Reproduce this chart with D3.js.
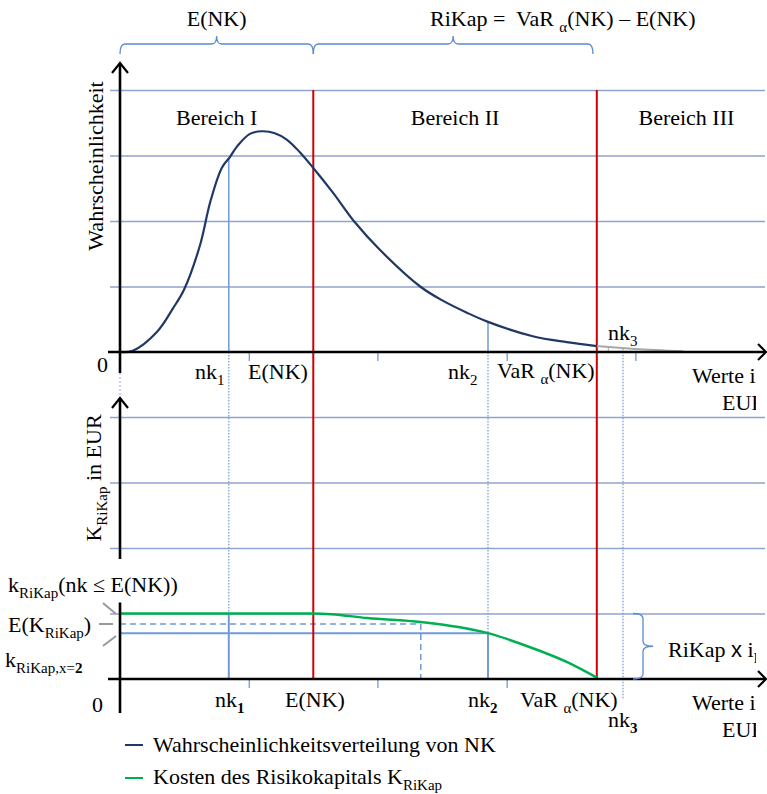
<!DOCTYPE html>
<html><head><meta charset="utf-8">
<script src="https://cdn.jsdelivr.net/npm/d3@7"></script>
<style>body{margin:0;background:#fff}</style>
</head><body>
<svg id="c" width="767" height="794" font-family="'Liberation Serif', serif"></svg>
<script>
// ---------- data (x in EUR units 0..100, y in arbitrary units) ----------
const densityX = [0, 2.0, 5.8, 8.3, 10, 12.5, 14.1, 15.9, 17.2, 18.3, 20.3, 22.2, 24.2, 26.1, 28.1, 30.2, 33.3, 36.7, 40.6, 46.9, 50.5, 54.2, 57.5, 64.5, 69.8, 74.5];
const densityY = [0, 0.02, 0.31, 0.67, 0.95, 1.63, 2.29, 2.81, 2.98, 3.14, 3.33, 3.37, 3.34, 3.24, 3.05, 2.81, 2.43, 1.98, 1.56, 1.00, 0.78, 0.60, 0.46, 0.24, 0.15, 0.09];
const tailX = [74.5, 80.6, 88];
const tailY = [0.09, 0.045, 0.01];
const costX = [0, 30.2, 33, 38.6, 47.0, 57.5, 64.5, 69.8, 74.5];
const costY = [1, 1, 0.99, 0.93, 0.87, 0.70, 0.47, 0.26, 0.02];
const nk1 = 17.0, eNK = 30.2, nk2 = 57.5, varNK = 74.5, nk3 = 78.6;
const gridTop = [1, 2, 3, 4];
const gridK = [1, 2, 3, 4];
const tickTopX = [20.2, 40.3, 60.5, 80.6];
const tickBottomX = [20.2, 40.3, 60.5];
const expectedCost = 0.84, expectedCostX = 47.0, costAtNk2 = 0.70, costMax = 1;
const braces = [[0, 30.2, "E(NK)"], [30.2, 73.9, ""]];
const regionLabels = ["Bereich I", "Bereich II", "Bereich III"];

// ---------- scales ----------
const svg = d3.select("#c");
const x = d3.scaleLinear().domain([0, 100]).range([120, 760]);
const yP = d3.scaleLinear().domain([0, 4]).range([352, 90]);
const yK = d3.scaleLinear().domain([0, 4]).range([679, 417]);

const GRID = "#8fa3cf", BLUE = "#6f9bd6", RED = "#d00000", NAVY = "#1f3864", GREEN = "#00b050";
const FS = 22, SFS = 15, FONT = "Liberation Serif";

function interp(xs, ys, v) {
  const i = d3.bisectRight(xs, v) - 1;
  const t = (v - xs[i]) / (xs[i + 1] - xs[i]);
  return ys[i] + t * (ys[i + 1] - ys[i]);
}
function line(x1, y1, x2, y2, col, w, dash) {
  const l = svg.append("line").attr("x1", x1).attr("y1", y1).attr("x2", x2).attr("y2", y2)
    .attr("stroke", col).attr("stroke-width", w);
  if (dash) l.attr("stroke-dasharray", dash);
  return l;
}
function rich(x0, y0, parts, opt = {}) {
  const t = svg.append("text").attr("x", x0).attr("y", y0).attr("font-size", FS)
    .attr("font-family", FONT).attr("fill", "#000").style("white-space", "pre");
  if (opt.anchor) t.attr("text-anchor", opt.anchor);
  if (opt.rotate) t.attr("transform", `rotate(-90,${x0},${y0})`);
  if (opt.clip) t.attr("clip-path", "url(#clipR)");
  let shift = 0;
  parts.forEach(p => {
    if (typeof p === "string") p = { t: p };
    const target = p.sub ? 6 : 0;
    const ts = t.append("tspan").text(p.t).attr("dy", target - shift);
    shift = target;
    if (p.sub) ts.attr("font-size", SFS);
    if (p.bold) ts.attr("font-weight", "bold");
    if (p.font) ts.attr("font-family", p.font);
  });
  return t;
}
svg.append("clipPath").attr("id", "clipR").append("rect").attr("x", 0).attr("y", 0).attr("width", 756).attr("height", 794);

// ---------- gridlines via axes ----------
const gTop = svg.append("g").attr("transform", "translate(110,0)")
  .call(d3.axisLeft(yP).tickValues(gridTop).tickSize(-655).tickFormat(""));
const gK = svg.append("g").attr("transform", "translate(110,0)")
  .call(d3.axisLeft(yK).tickValues(gridK).tickSize(-655).tickFormat(""));
[gTop, gK].forEach(g => { g.select(".domain").remove(); g.selectAll("line").attr("stroke", GRID).attr("stroke-width", 1.6); });

// ---------- tick marks ----------
tickTopX.forEach(v => line(x(v), yP(0), x(v), yP(0) + 9, BLUE, 1.3));
tickBottomX.forEach(v => line(x(v), yK(0), x(v), yK(0) + 9, BLUE, 1.3));
line(x(76.3), yP(0) - 4, x(76.3), yP(0), "#aaa", 1);

// ---------- marker lines ----------
const DOT = "1.5,1.5";
line(x(nk1), yP(interp(densityX, densityY, nk1)), x(nk1), yP(0), BLUE, 1.5);
line(x(nk1), yP(0), x(nk1), yK(costMax), BLUE, 1.2, DOT);
line(x(nk1), yK(costMax), x(nk1), yK(0), BLUE, 2);
line(x(nk2), yP(interp(densityX, densityY, nk2)), x(nk2), yP(0), BLUE, 1.5);
line(x(nk2), yP(0), x(nk2), yK(costAtNk2), BLUE, 1.2, DOT);
line(x(nk2), yK(costAtNk2), x(nk2), yK(0), BLUE, 2);
line(x(nk3), yP(0.05), x(nk3), yK(0) + 21, BLUE, 1.2, DOT);
line(x(0), yP(0) + 21, x(0), yK(4) - 19, "#b8c8e4", 1.5, "2,2");

// bottom level lines
line(x(0), yK(costAtNk2), x(nk2), yK(costAtNk2), BLUE, 2);
line(x(0), yK(expectedCost), x(expectedCostX), yK(expectedCost), BLUE, 1.5, "6,4");
line(x(expectedCostX), yK(expectedCost), x(expectedCostX), yK(0), BLUE, 1.5, "6,4");

// red region borders
[eNK, varNK].forEach(v => line(x(v), yP(4), x(v), yK(0), RED, 2));

// ---------- curves ----------
const lg = d3.line().x(d => x(d[0])).y(d => yP(d[1])).curve(d3.curveCatmullRom.alpha(0.5));
svg.append("path").attr("d", lg(d3.zip(tailX, tailY))).attr("fill", "none").attr("stroke", "#a8a8a8").attr("stroke-width", 2);
svg.append("path").attr("d", lg(d3.zip(densityX, densityY))).attr("fill", "none").attr("stroke", NAVY).attr("stroke-width", 2.2);
const lk = d3.line().x(d => x(d[0])).y(d => yK(d[1])).curve(d3.curveMonotoneX);
svg.append("path").attr("d", lk(d3.zip(costX, costY))).attr("fill", "none").attr("stroke", GREEN).attr("stroke-width", 2.5);

// ---------- axes (black) ----------
const AX = 2.6;
line(108, yP(0), 766, yP(0), "#000", AX);
line(120, yP(0) + 21, 120, 63, "#000", AX);
line(120, 559, 120, yK(4) - 19, "#000", AX);
line(120, yK(0) + 34, 120, yK(costMax) - 11, "#000", AX);
line(108, yK(0), 766, yK(0), "#000", AX);
function chevron(pts) {
  svg.append("path").attr("d", d3.line()(pts)).attr("fill", "none").attr("stroke", "#000").attr("stroke-width", 2.2);
}
chevron([[758, yP(0) - 8], [766, yP(0)], [758, yP(0) + 8]]);
chevron([[758, yK(0) - 8], [766, yK(0)], [758, yK(0) + 8]]);
chevron([[112, 73], [120, 63], [128, 73]]);
chevron([[112, yK(4) - 9], [120, yK(4) - 19], [128, yK(4) - 9]]);

// left connector strokes
line(103, 603, 116, 614, "#999", 2);
line(99, yK(expectedCost), 113, yK(expectedCost), "#999", 2);
line(103, 646, 116, 636, "#999", 2);

// ---------- braces ----------
function hBrace(xa, xb, y, h) {
  const m = (xa + xb) / 2, r = 5;
  const d = `M${xa},${y + h} Q${xa},${y} ${xa + r},${y} L${m - r},${y} Q${m},${y} ${m},${y - 8}` +
    ` Q${m},${y} ${m + r},${y} L${xb - r},${y} Q${xb},${y} ${xb},${y + h}`;
  svg.append("path").attr("d", d).attr("fill", "none").attr("stroke", "#5b8bd0").attr("stroke-width", 1.3);
}
braces.forEach(b => hBrace(x(b[0]), x(b[1]), 44, 10));
rich((x(braces[0][0]) + x(braces[0][1])) / 2, 26, [braces[0][2]], { anchor: "middle" });
rich(430, 26, ["RiKap =  VaR ", { t: "α", sub: true }, "(NK) – E(NK)"]);

// right vertical brace
(function () {
  const xa = 633, top = yK(costMax), bot = yK(0), m = (top + bot) / 2, r = 5, xs = 643;
  const d = `M${xa},${top} Q${xs},${top} ${xs},${top + r} L${xs},${m - r} Q${xs},${m} ${xs + 10},${m}` +
    ` Q${xs},${m} ${xs},${m + r} L${xs},${bot - r} Q${xs},${bot} ${xa},${bot}`;
  svg.append("path").attr("d", d).attr("fill", "none").attr("stroke", "#5b8bd0").attr("stroke-width", 1.3);
})();
rich(668, 657, ["RiKap ", { t: "x", font: "Liberation Sans" }, " i", { t: "F", sub: true }], { clip: true });

// ---------- labels ----------
rich(x(eNK / 2) , 125, [regionLabels[0]], { anchor: "middle" });
rich((x(eNK) + x(varNK)) / 2, 125, [regionLabels[1]], { anchor: "middle" });
rich((x(varNK) + 760) / 2 + 8, 125, [regionLabels[2]], { anchor: "middle" });

rich(103, 166, ["Wahrscheinlichkeit"], { rotate: true, anchor: "middle" });
rich(101, 478, ["K", { t: "RiKap", sub: true }, " in EUR"], { rotate: true, anchor: "middle" });

// top axis labels
rich(97, 372, ["0"]);
rich(195, 379, ["nk", { t: "1", sub: true }]);
rich(248, 379, ["E(NK)"]);
rich(448, 379, ["nk", { t: "2", sub: true }]);
rich(497, 378, ["VaR ", { t: "α", sub: true }, "(NK)"]);
rich(608, 340, ["nk", { t: "3", sub: true }]);
rich(692, 383, ["Werte in"], { clip: true });
rich(722, 410, ["EUR"], { clip: true });

// bottom labels
rich(8, 592, ["k", { t: "RiKap", sub: true }, "(nk ≤ E(NK))"]);
rich(8, 632, ["E(K", { t: "RiKap", sub: true }, ")"]);
rich(5, 667, ["k", { t: "RiKap,x=", sub: true }, { t: "2", sub: true, bold: true }]);
rich(92, 712, ["0"]);
rich(215, 707, ["nk", { t: "1", sub: true, bold: true }]);
rich(285, 707, ["E(NK)"]);
rich(468, 707, ["nk", { t: "2", sub: true, bold: true }]);
rich(520, 707, ["VaR ", { t: "α", sub: true }, "(NK)"]);
rich(608, 727, ["nk", { t: "3", sub: true, bold: true }]);
rich(692, 710, ["Werte in"], { clip: true });
rich(722, 737, ["EUR"], { clip: true });

// legend
line(125, 745, 143, 745, NAVY, 2);
rich(153, 752, ["Wahrscheinlichkeitsverteilung von NK"]);
line(125, 778, 143, 778, GREEN, 2);
rich(153, 784, ["Kosten des Risikokapitals K", { t: "RiKap", sub: true }]);
</script>
</body></html>
